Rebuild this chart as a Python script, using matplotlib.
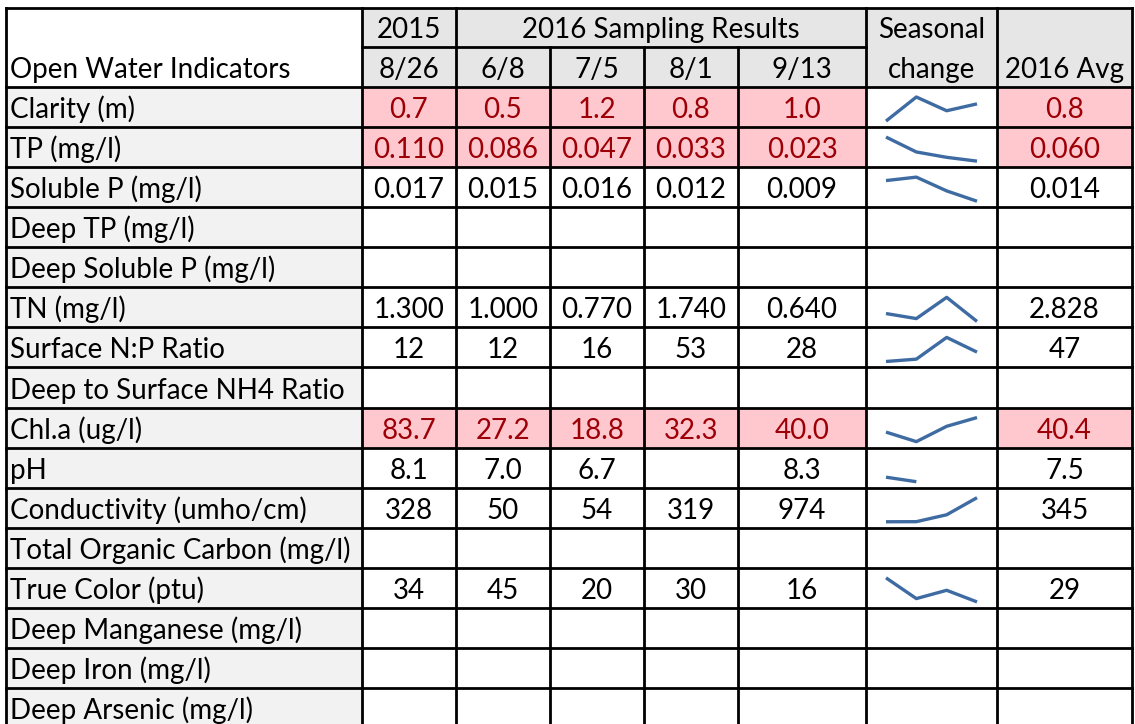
import numpy as np
import matplotlib

matplotlib.use("Agg")
import matplotlib.pyplot as plt
from matplotlib.patches import Rectangle

nan = np.nan

# --- data -------------------------------------------------------------------
INDICATORS = [
    "Clarity (m)", "TP (mg/l)", "Soluble P (mg/l)", "Deep TP (mg/l)",
    "Deep Soluble P (mg/l)", "TN (mg/l)", "Surface N:P Ratio",
    "Deep to Surface NH4 Ratio", "Chl.a (ug/l)", "pH",
    "Conductivity (umho/cm)", "Total Organic Carbon (mg/l)",
    "True Color (ptu)", "Deep Manganese (mg/l)", "Deep Iron (mg/l)",
    "Deep Arsenic (mg/l)",
]
DATE_2015 = "8/26"
DATES_2016 = ["6/8", "7/5", "8/1", "9/13"]

V_2015_0826 = [0.7, 0.110, 0.017, nan, nan, 1.300, 12, nan, 83.7, 8.1, 328, nan, 34, nan, nan, nan]
V_2016_0608 = [0.5, 0.086, 0.015, nan, nan, 1.000, 12, nan, 27.2, 7.0, 50, nan, 45, nan, nan, nan]
V_2016_0705 = [1.2, 0.047, 0.016, nan, nan, 0.770, 16, nan, 18.8, 6.7, 54, nan, 20, nan, nan, nan]
V_2016_0801 = [0.8, 0.033, 0.012, nan, nan, 1.740, 53, nan, 32.3, nan, 319, nan, 30, nan, nan, nan]
V_2016_0913 = [1.0, 0.023, 0.009, nan, nan, 0.640, 28, nan, 40.0, 8.3, 974, nan, 16, nan, nan, nan]
AVG_2016 = [0.8, 0.060, 0.014, nan, nan, 2.828, 47, nan, 40.4, 7.5, 345, nan, 29, nan, nan, nan]
DECIMALS = [1, 3, 3, 0, 0, 3, 0, 0, 1, 1, 0, 0, 0, 0, 0, 0]
FLAGGED = ["Clarity (m)", "TP (mg/l)", "Chl.a (ug/l)"]

# --- style ------------------------------------------------------------------
W, H = 1135, 724
COL_EDGES = [6, 362, 456, 550, 644, 738, 866, 997, 1132]
TOP, HDR_MID, HDR_BOT = 8, 47, 87
ROW_H = 40.07
HEADER_FILL = "#e6e6e6"
LABEL_FILL = "#f2f2f2"
FLAG_FILL = "#ffc7ce"
FLAG_INK = "#9c0006"
SPARK = "#3f6ba3"
FONT = ["Lato", "DejaVu Sans"]
FS = 20
LW = 2.0

fig = plt.figure(figsize=(W / 100, H / 100), dpi=100)
ax = fig.add_axes([0, 0, 1, 1])
ax.set_xlim(0, W)
ax.set_ylim(H, 0)
ax.axis("off")


def txt(x, y, s, ha="center", color="black"):
    ax.text(x, y, s, ha=ha, va="baseline", fontsize=FS, family=FONT, color=color)


def box(x0, x1, y0, y1, color):
    ax.add_patch(Rectangle((x0, y0), x1 - x0, y1 - y0, facecolor=color,
                           edgecolor="none", zorder=0))


# header fills and text
box(COL_EDGES[1], COL_EDGES[-1], TOP, HDR_BOT, HEADER_FILL)
mid = lambda a, b: (COL_EDGES[a] + COL_EDGES[b]) / 2  # noqa: E731
txt(mid(1, 2), HDR_MID - 9, "2015")
txt(mid(2, 6), HDR_MID - 9, "2016 Sampling Results")
txt(mid(6, 7), HDR_MID - 9, "Seasonal")
txt(mid(6, 7), HDR_BOT - 9, "change")
txt(mid(7, 8), HDR_BOT - 9, "2016 Avg")
txt(COL_EDGES[0] + 4, HDR_BOT - 9, "Open Water Indicators", ha="left")
txt(mid(1, 2), HDR_BOT - 9, DATE_2015)
for i, d in enumerate(DATES_2016):
    txt(mid(2 + i, 3 + i), HDR_BOT - 9, d)

# body
value_cols = [V_2015_0826, V_2016_0608, V_2016_0705, V_2016_0801, V_2016_0913]
n = len(INDICATORS)
for r, name in enumerate(INDICATORS):
    y0 = HDR_BOT + r * ROW_H
    y1 = y0 + ROW_H
    box(COL_EDGES[0], COL_EDGES[1], y0, y1, LABEL_FILL)
    flagged = name in FLAGGED
    ink = FLAG_INK if flagged else "black"
    if flagged:
        box(COL_EDGES[1], COL_EDGES[6], y0, y1, FLAG_FILL)
        box(COL_EDGES[7], COL_EDGES[8], y0, y1, FLAG_FILL)
    txt(COL_EDGES[0] + 4, y1 - 9, name, ha="left")
    fmt = f"{{:.{DECIMALS[r]}f}}"
    for c, col in enumerate(value_cols):
        if not np.isnan(col[r]):
            txt(mid(1 + c, 2 + c), y1 - 9, fmt.format(col[r]), color=ink)
    if not np.isnan(AVG_2016[r]):
        txt(mid(7, 8), y1 - 9, fmt.format(AVG_2016[r]), color=ink)

    # sparkline of the four 2016 samples
    vals = np.array([col[r] for col in value_cols[1:]], dtype=float)
    if np.isfinite(vals).sum() >= 2:
        sx0, sx1 = COL_EDGES[6] + 20, COL_EDGES[7] - 20
        sy0, sy1 = y0 + 10, y1 - 6
        sp = fig.add_axes([sx0 / W, 1 - sy1 / H, (sx1 - sx0) / W, (sy1 - sy0) / H])
        sp.plot(range(len(vals)), vals, color=SPARK, lw=2.4, clip_on=False,
                solid_capstyle="butt")
        sp.set_xlim(0, len(vals) - 1)
        sp.set_ylim(np.nanmin(vals), np.nanmax(vals))
        sp.axis("off")

# grid lines
bottom = HDR_BOT + n * ROW_H
kw = dict(color="black", lw=LW, zorder=3, solid_capstyle="projecting")
ax.plot([COL_EDGES[0], COL_EDGES[-1]], [TOP, TOP], **kw)
ax.plot([COL_EDGES[1], COL_EDGES[6]], [HDR_MID, HDR_MID], **kw)
for r in range(n + 1):
    y = HDR_BOT + r * ROW_H
    ax.plot([COL_EDGES[0], COL_EDGES[-1]], [y, y], **kw)
for i, x in enumerate(COL_EDGES):
    if i in (3, 4, 5):
        ax.plot([x, x], [HDR_MID, bottom], **kw)
    else:
        ax.plot([x, x], [TOP, bottom], **kw)

fig.savefig("out.png", dpi=100, facecolor="white")
